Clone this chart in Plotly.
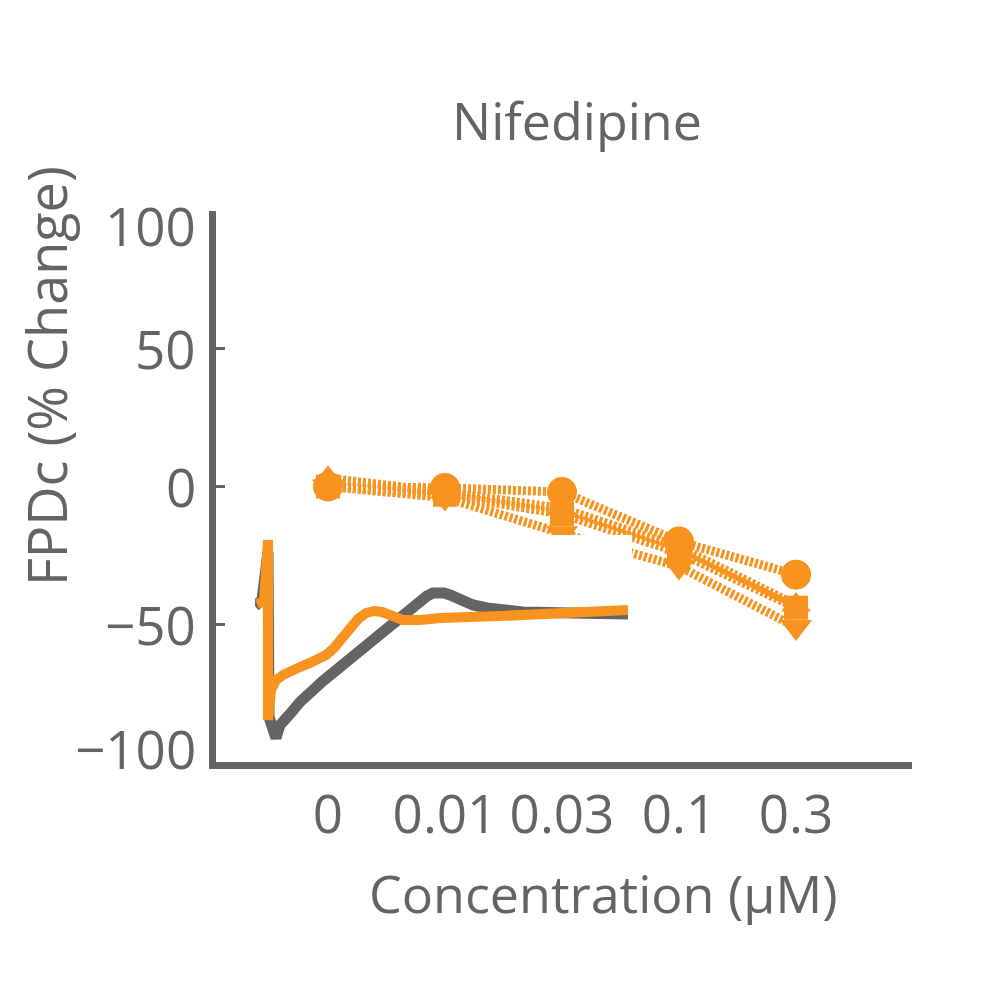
import plotly.graph_objects as go

# ---------------- data ----------------
concentrations = ["0", "0.01", "0.03", "0.1", "0.3"]
conc_pos = [0, 1, 2, 3, 4]

fpdc_circle = [0, -0.5, -2, -20, -32]
fpdc_triangle_up = [3, -2, -8, -22, -43]
fpdc_triangle_down = [0, -4, -17, -29, -51]
fpdc_square = [0, -3, -10, -24, -44]

y_tick_vals = [-100, -50, 0, 50, 100]
y_tick_text = ["\u2212100", "\u221250", "0", "50", "100"]

# inset field-potential waveforms (time in ms, amplitude in a.u.)
baseline_t = [0, 7, 13, 14, 21, 25, 35, 45, 68, 85, 102, 118, 135, 155, 165, 172, 178, 183,
              189, 195, 205, 218, 232, 245, 268, 318, 373]
baseline_v = [6, 12, 60, -105, -126, -113, -102, -90, -69, -55, -41, -28, -14, 4, 12, 16, 19, 20,
              19, 17, 12, 7, 4, 2, 0, -1, -2]
drug_t = [2, 9, 13, 13, 16, 21, 28, 35, 45, 55, 63, 71, 79, 87, 95, 103, 111, 119, 127,
          137, 148, 165, 185, 245, 305, 373]
drug_v = [8, 11, 72, -108, -78, -68, -63, -59, -55, -51, -48, -43, -36, -26, -17, -7, -1, 1, 0,
          -4, -8, -8, -6, -4, -1, 2]

ORANGE = "#F7931E"
GRAY = "#646464"
FONT = "Open Sans"

fig = go.Figure()

# inset waveform traces
fig.add_trace(go.Scatter(x=baseline_t, y=baseline_v, mode="lines", xaxis="x2", yaxis="y2",
                         line=dict(color=GRAY, width=11), showlegend=False, hoverinfo="skip"))
fig.add_trace(go.Scatter(x=drug_t, y=drug_v, mode="lines", xaxis="x2", yaxis="y2",
                         line=dict(color=ORANGE, width=10), showlegend=False, hoverinfo="skip"))

series = [
    (fpdc_triangle_up, "triangle-up", 26),
    (fpdc_triangle_down, "triangle-down", 28),
    (fpdc_square, "square", 24),
    (fpdc_circle, "circle", 30),
]
for vals, sym, size in series:
    fig.add_trace(go.Scatter(
        x=conc_pos, y=vals, mode="lines+markers",
        line=dict(color=ORANGE, width=9, dash="3px,2px"),
        marker=dict(symbol=sym, size=size, color=ORANGE, line=dict(width=0)),
        showlegend=False))

# page body adds an 8px offset; compensate so the axes sit at x=212 and y=763
OFF = 8
L, T = 216 - OFF, 211 - OFF
PW, PH = 696, 551
W = H = 1000
R = W - L - PW
B = H - T - PH
X_PER_UNIT = 117.0
X_RANGE = [-(328 - 216) / X_PER_UNIT, (912 - 328) / X_PER_UNIT]

def px_x(px):
    return (px - OFF - L) / PW

def px_y(py):
    return (T + PH - (py - OFF)) / PH

annotations = [
    dict(text="Nifedipine", x=px_x(577), y=px_y(120), xref="paper", yref="paper",
         xanchor="center", yanchor="middle", showarrow=False,
         font=dict(family=FONT, size=52, color=GRAY)),
    dict(text="Concentration (\u03bcM)", x=px_x(603), y=px_y(892), xref="paper", yref="paper",
         xanchor="center", yanchor="middle", showarrow=False,
         font=dict(family=FONT, size=52, color=GRAY)),
    dict(text="FPDc (% Change)", x=px_x(46), y=px_y(376), xref="paper", yref="paper",
         xanchor="center", yanchor="middle", showarrow=False, textangle=-90,
         font=dict(family=FONT, size=54, color=GRAY)),
]
# y tick labels (end labels pulled inward as in the original)
for v, t in zip(y_tick_vals, y_tick_text):
    shift = -14 if v == 100 else (14 if v == -100 else 0)
    annotations.append(dict(text=t, x=0, y=v, xref="paper", yref="y", xanchor="right",
                            yanchor="middle", xshift=-18, yshift=shift, showarrow=False,
                            font=dict(family=FONT, size=53, color=GRAY)))

fig.update_layout(
    width=W, height=H,
    margin=dict(l=L, r=R, t=T, b=B),
    paper_bgcolor="white", plot_bgcolor="white",
    font=dict(family=FONT, color=GRAY, size=52),
    xaxis=dict(range=X_RANGE, tickvals=conc_pos, ticktext=concentrations,
               showgrid=False, zeroline=False, showline=True, linecolor=GRAY, linewidth=7,
               ticks="", tickfont=dict(family=FONT, size=53, color=GRAY)),
    yaxis=dict(range=[-100, 100], tickvals=y_tick_vals, showticklabels=False,
               showgrid=False, zeroline=False, showline=True, linecolor=GRAY, linewidth=7,
               ticks="inside", ticklen=9, tickwidth=3, tickcolor=GRAY),
    xaxis2=dict(domain=[px_x(255), px_x(632)], range=[0, 377], anchor="y2",
                visible=False, fixedrange=True),
    yaxis2=dict(domain=[px_y(742), px_y(535)], range=[-130, 77], anchor="x2",
                visible=False, fixedrange=True),
    annotations=annotations,
)

fig.write_html("out.html")
